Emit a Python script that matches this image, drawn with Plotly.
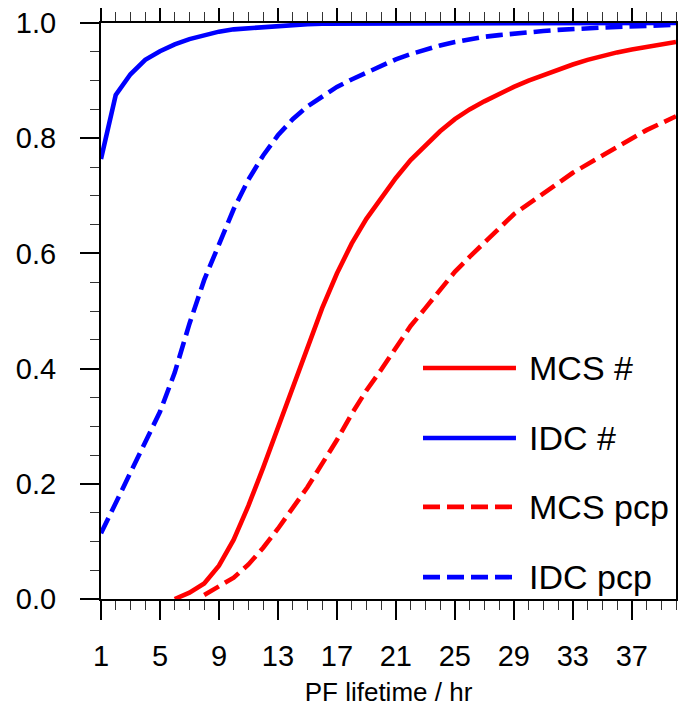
import plotly.graph_objects as go

lifetime = list(range(1, 41))

mcs_num = [None, None, None, None, None,
           0.0, 0.011, 0.027, 0.058, 0.103, 0.162, 0.228, 0.297, 0.370, 0.440,
           0.505, 0.565, 0.617, 0.660, 0.697, 0.731, 0.762, 0.788, 0.812, 0.833,
           0.850, 0.864, 0.877, 0.889, 0.900, 0.910, 0.919, 0.928, 0.936, 0.943,
           0.949, 0.954, 0.959, 0.963, 0.967]

idc_num = [0.764, 0.875, 0.911, 0.936, 0.951, 0.963, 0.972, 0.979, 0.985, 0.989,
           0.991, 0.993, 0.995, 0.997, 0.998, 0.999, 0.999, 1.0, 1.0, 1.0,
           1.0, 1.0, 1.0, 1.0, 1.0, 1.0, 1.0, 1.0, 1.0, 1.0,
           1.0, 1.0, 1.0, 1.0, 1.0, 1.0, 1.0, 1.0, 1.0, 1.0]

mcs_pcp = [None, None, None, None, None, None, None,
           0.007, 0.021, 0.037, 0.060, 0.089, 0.122, 0.157, 0.194,
           0.235, 0.276, 0.321, 0.362, 0.398, 0.436, 0.474, 0.505, 0.538, 0.568,
           0.594, 0.619, 0.645, 0.668, 0.686, 0.703, 0.722, 0.740, 0.755, 0.770,
           0.785, 0.800, 0.814, 0.826, 0.838]

idc_pcp = [0.114, 0.166, 0.219, 0.272, 0.325, 0.393, 0.478, 0.554, 0.618, 0.677,
           0.728, 0.770, 0.805, 0.833, 0.855, 0.873, 0.889, 0.902, 0.914, 0.926,
           0.937, 0.946, 0.954, 0.961, 0.967, 0.972, 0.976, 0.979, 0.982, 0.984,
           0.986, 0.988, 0.990, 0.991, 0.992, 0.993, 0.994, 0.995, 0.996, 0.997]

x_ticks = [1, 5, 9, 13, 17, 21, 25, 29, 33, 37]
y_ticks = [0.0, 0.2, 0.4, 0.6, 0.8, 1.0]
y_labels = ["0.0", "0.2", "0.4", "0.6", "0.8", "1.0"]

series_names = ["MCS #", "IDC #", "MCS pcp", "IDC pcp"]
series_values = [mcs_num, idc_num, mcs_pcp, idc_pcp]
series_colors = ["#FF0000", "#0000FF", "#FF0000", "#0000FF"]
series_dash = ["solid", "solid", "17px,7px", "17px,7px"]

FONT = "Liberation Sans, Arial, Helvetica, sans-serif"
LW = 4.6

fig = go.Figure()
for name, vals, col, dash in zip(series_names, series_values, series_colors, series_dash):
    fig.add_trace(go.Scatter(x=lifetime, y=vals, mode="lines", name=name,
                             line=dict(color=col, width=LW, dash=dash),
                             connectgaps=False, showlegend=False))

# legend drawn as line samples + text in paper coordinates
leg_y = [0.401, 0.2795, 0.160, 0.038]
for name, col, dash, yy in zip(series_names, series_colors, series_dash, leg_y):
    fig.add_shape(type="line", xref="paper", yref="paper",
                  x0=0.560, x1=0.7217, y0=yy, y1=yy,
                  line=dict(color=col, width=LW, dash=dash))
    fig.add_annotation(xref="paper", yref="paper", x=0.741, y=yy,
                       xanchor="left", yanchor="middle", text=name,
                       showarrow=False, font=dict(family=FONT, size=34, color="black"))

axis_common = dict(showline=True, linecolor="black", linewidth=2, mirror="ticks",
                   ticks="outside", ticklen=19, tickwidth=2, tickcolor="black",
                   showgrid=False, zeroline=False, automargin=False,
                   ticklabeloverflow="allow",
                   tickfont=dict(family=FONT, size=29, color="black"))

fig.update_xaxes(range=[1, 40], tickvals=x_ticks, ticklabelstandoff=11,
                 minor=dict(dtick=1, tick0=1, ticklen=9, tickwidth=1,
                            tickcolor="#333", ticks="outside", showgrid=False),
                 title=dict(text="PF lifetime / hr", standoff=12,
                            font=dict(family=FONT, size=26, color="black")),
                 **axis_common)
fig.update_yaxes(range=[0, 1], tickvals=y_ticks, ticktext=y_labels, ticklabelstandoff=18,
                 minor=dict(dtick=0.05, tick0=0, ticklen=9, tickwidth=1,
                            tickcolor="#333", ticks="outside", showgrid=False),
                 **axis_common)

# page body has an 8px margin, so the figure is sized/offset to compensate
fig.update_layout(width=678, height=702,
                  margin=dict(l=93, r=10, t=15, b=111),
                  plot_bgcolor="white", paper_bgcolor="white",
                  font=dict(family=FONT, color="black"))

fig.write_html("out.html")
